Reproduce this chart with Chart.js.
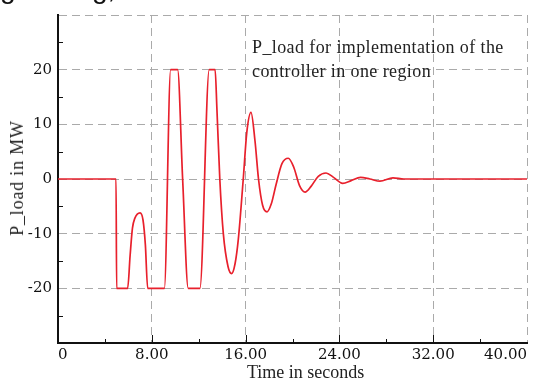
<!DOCTYPE html>
<html>
<head>
<meta charset="utf-8">
<script src="https://cdn.jsdelivr.net/npm/chart.js@4"></script>
<style>
  body { margin: 0; background: #fff; }
  #wrap { position: relative; width: 539px; height: 381px; overflow: hidden; }
  .cut { position: absolute; top: -25px; font: 28px "Liberation Sans", sans-serif; line-height: 28px; color: #111; }
  #note { position: absolute; left: 252px; top: 35px; font: 18px "Liberation Serif", serif; letter-spacing: 0.4px; line-height: 24px; color: #222; }
  #xtitle { position: absolute; left: 247px; top: 362px; font: 18px "Liberation Serif", serif; line-height: 20px; color: #222; white-space: nowrap; }
  #ytitle { position: absolute; left: 17px; top: 178px; font: 18px "Liberation Serif", serif; letter-spacing: 0.8px; line-height: 20px; color: #222; white-space: nowrap;
            transform: translate(-50%, -50%) rotate(-90deg); }
</style>
</head>
<body>
<div id="wrap">
  <canvas id="chart" width="539" height="381"></canvas>
  <span class="cut" style="left:0px">g</span>
  <span class="cut" style="left:92px">g,</span>
  <div id="note">P_load for implementation of the<br>controller in one region</div>
  <div id="xtitle">Time in seconds</div>
  <div id="ytitle">P_load in MW</div>
</div>
<script>
const time = [0, 4.95, 5.0, 5.94, 6.15, 6.35, 6.55, 7.0, 7.25, 7.45, 7.65, 9.07, 9.61, 10.2, 10.63, 11.11,
  12.1, 12.9, 13.4, 13.55, 13.8, 14.1, 14.5, 14.81, 15.1, 15.38, 15.8, 16.1, 16.46, 16.8, 17.1, 17.45,
  17.83, 18.2, 18.6, 19.1, 19.64, 20.1, 20.6, 21.07, 21.6, 22.2, 22.86, 23.5, 24.28, 25.0, 25.8, 26.6,
  27.46, 28.57, 29.5, 40];
const pLoad = [0, 0, -20, -20, -14, -9, -7.2, -6.2, -7.5, -12, -20, -20, 20, 20, 0, -20,
  -20, 20, 20, 13, 0, -10, -16, -17.3, -15.5, -11, 0, 8.5, 12.2, 7, 0, -4.8,
  -6, -4.5, -1, 2.8, 3.8, 2.2, -1.2, -2.4, -1.3, 0.5, 1.1, 0.3, -0.8, -0.3, 0.3, 0,
  -0.4, 0.2, 0, 0];

const xTicks = [0, 8, 16, 24, 32, 40];
const yLabelled = [-20, -10, 0, 10, 20];
const xMinor = [4, 12, 20, 28, 36];
const yMinor = [-25, -15, -5, 5, 15, 25];

const tickFont = { family: '"DejaVu Serif", serif', size: 15 };

// small tick marks drawn inside the plot along both axes
const innerTicks = {
  id: 'innerTicks',
  afterDraw(chart) {
    const ctx = chart.ctx;
    const x = chart.scales.x;
    const y = chart.scales.y;
    const area = chart.chartArea;
    ctx.save();
    ctx.strokeStyle = '#111';
    ctx.lineWidth = 1;
    ctx.setLineDash([]);
    ctx.beginPath();
    xTicks.slice(1, -1).forEach(v => {
      const px = Math.round(x.getPixelForValue(v)) + 0.5;
      ctx.moveTo(px, area.bottom);
      ctx.lineTo(px, area.bottom - 8);
    });
    xMinor.forEach(v => {
      const px = Math.round(x.getPixelForValue(v)) + 0.5;
      ctx.moveTo(px, area.bottom);
      ctx.lineTo(px, area.bottom - 4);
    });
    yMinor.forEach(v => {
      const py = Math.round(y.getPixelForValue(v)) + 0.5;
      ctx.moveTo(area.left, py);
      ctx.lineTo(area.left + 5, py);
    });
    ctx.stroke();
    ctx.restore();
  }
};

new Chart(document.getElementById('chart'), {
  type: 'line',
  data: {
    datasets: [{
      data: time.map((t, i) => ({ x: t, y: pLoad[i] })),
      borderColor: '#e8202c',
      borderWidth: 1.7,
      pointRadius: 0,
      fill: false,
      cubicInterpolationMode: 'monotone'
    }]
  },
  options: {
    responsive: false,
    devicePixelRatio: 1,
    animation: false,
    layout: { autoPadding: false, padding: { top: 15, right: 12, left: 0, bottom: 0 } },
    plugins: { legend: { display: false }, tooltip: { enabled: false } },
    scales: {
      x: {
        type: 'linear',
        min: 0,
        max: 40,
        afterFit: s => { s.height = 38; s.paddingLeft = 0; s.paddingRight = 0; },
        afterBuildTicks: s => { s.ticks = xTicks.map(v => ({ value: v })); },
        ticks: {
          padding: 3,
          align: 'inner',
          color: '#111',
          font: tickFont,
          maxRotation: 0,
          callback: v => v === 0 ? '0' : v.toFixed(2)
        },
        grid: {
          drawTicks: false,
          color: c => c.tick && c.tick.value === 0 ? 'rgba(0,0,0,0)' : '#aaa',
          lineWidth: 1
        },
        border: { display: true, color: '#111', width: 2, dash: [8, 5] }
      },
      y: {
        min: -30,
        max: 30,
        afterFit: s => { s.width = 58; s.paddingTop = 0; s.paddingBottom = 0; },
        ticks: {
          stepSize: 10,
          padding: 6,
          color: '#111',
          font: tickFont,
          callback: v => yLabelled.includes(v) ? String(v) : ''
        },
        grid: {
          drawTicks: false,
          color: c => c.tick && c.tick.value === -30 ? 'rgba(0,0,0,0)' : '#aaa',
          lineWidth: 1
        },
        border: { display: true, color: '#111', width: 2, dash: [8, 5] }
      }
    }
  },
  plugins: [innerTicks]
});
</script>
</body>
</html>
